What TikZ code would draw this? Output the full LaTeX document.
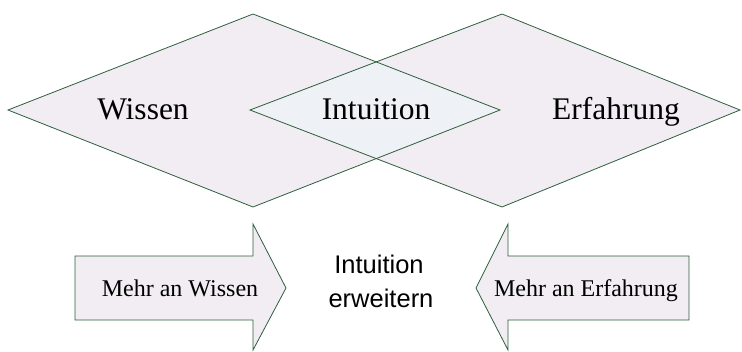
\documentclass[tikz,border=0pt]{standalone}
\usepackage{fontspec}
\setmainfont{Liberation Serif}
\newfontfamily\arialfont{Liberation Sans}
\definecolor{edge}{HTML}{2E5E3C}
\definecolor{fillA}{HTML}{F1EDF2}
\definecolor{fillB}{HTML}{EEF1F6}
\begin{document}
\begin{tikzpicture}[x=1pt,y=-1pt,
  shapeline/.style={draw=edge,line width=0.8pt,line join=miter},
  biglabel/.style={font=\fontsize{31.5}{31.5}\selectfont,inner sep=0pt,anchor=base},
  arrowlabel/.style={font=\fontsize{24}{24}\selectfont,inner sep=0pt,anchor=base},
  sanslabel/.style={font=\arialfont\fontsize{25.5}{34}\selectfont,inner sep=0pt,anchor=base}]
\useasboundingbox (0,0) rectangle (742,351);
% diamonds
\coordinate (LL) at (8,110);
\coordinate (LT) at (253,14);
\coordinate (LR) at (500,110);
\coordinate (LB) at (253,207);
\coordinate (RL) at (250,110);
\coordinate (RT) at (502,14);
\coordinate (RR) at (740,110);
\coordinate (RB) at (502,207);
\fill[fillA] (LL) -- (LT) -- (LR) -- (LB) -- cycle;
\fill[fillA] (RL) -- (RT) -- (RR) -- (RB) -- cycle;
\begin{scope}
\clip (LL) -- (LT) -- (LR) -- (LB) -- cycle;
\fill[fillB] (RL) -- (RT) -- (RR) -- (RB) -- cycle;
\end{scope}
\draw[shapeline] (LL) -- (LT) -- (LR) -- (LB) -- cycle;
\draw[shapeline] (RL) -- (RT) -- (RR) -- (RB) -- cycle;
\node[biglabel] (wissen) at (143,119) {Wissen};
\node[biglabel] (intuition) at (376,119) {Intuition};
\node[biglabel] (erfahrung) at (616,119) {Erfahrung};
% arrows
\draw[shapeline,fill=fillA] (75,256) -- (253,256) -- (253,224) -- (286,288) -- (253,350) -- (253,320) -- (75,320) -- cycle;
\draw[shapeline,fill=fillA] (689,256) -- (508,256) -- (508,224) -- (476,288) -- (508,350) -- (508,320) -- (689,320) -- cycle;
\node[arrowlabel] (mw) at (180,296) {Mehr an Wissen};
\node[arrowlabel] (me) at (586,296) {Mehr an Erfahrung};
\node[sanslabel] (ie1) at (379,273) {Intuition};
\node[sanslabel] (ie2) at (381,307) {erweitern};
\end{tikzpicture}
\end{document}
